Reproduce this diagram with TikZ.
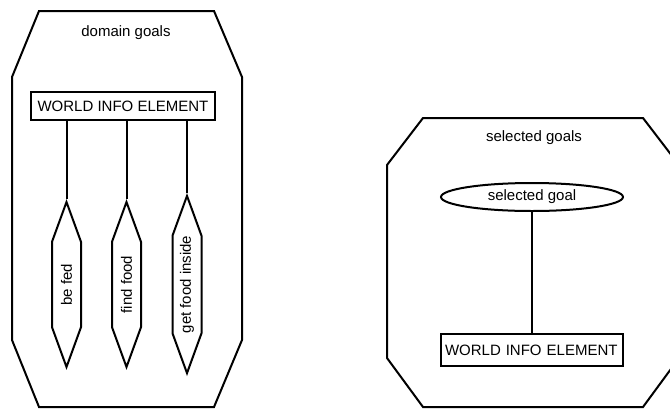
\documentclass[tikz,border=0pt]{standalone}
\usepackage{fontspec}
\setmainfont{Liberation Sans}
\usetikzlibrary{shapes.geometric,shapes.symbols}

\begin{document}
\begin{tikzpicture}[
            x = 1pt, y = -1pt, % work in pixel-like units, y down
            line width = 2pt, % line style
            font = \fontsize{15}{17}\selectfont,
            infobox/.style = {draw, rectangle, inner sep=0pt},
            goal/.style = {draw, signal, signal to=east and west,
                signal pointer angle=40, rotate=90,
                minimum width=165pt, minimum height=29pt, inner sep=0pt}
            ]
            \useasboundingbox (0,0) rectangle (670,408);
            \clip (0,0) rectangle (670,408);

            % outer frames
            \draw (39,11) -- (214,11) -- (242,77) -- (242,340)
                -- (214,407) -- (39,407) -- (12,340) -- (12,77) -- cycle;
            \draw (423,118) -- (643,118) -- (679,165) -- (679,358)
                -- (643,407) -- (423,407) -- (387,358) -- (387,165) -- cycle;

            \node (dg) at (126,33) {domain goals};
            \node (sg) at (534,138) {selected goals};

            % domain goals side
            \node[infobox, minimum width=184pt, minimum height=28pt]
                (wie1) at (123,106) {WORLD INFO ELEMENT};

            \node[goal] (g1) at (66.5,284.5) {be fed};
            \node[goal] (g2) at (126.5,284.5) {find food};
            \node[goal] (g3) at (187,284.5) {get food inside};

            \path[draw] (wie1.south -| g1.east) -- (g1.east);
            \path[draw] (wie1.south -| g2.east) -- (g2.east);
            \path[draw] (wie1.south -| g3.east) -- (g3.east);

            % selected goals side
            \node[draw, ellipse, inner sep=0pt, minimum width=182pt,
                minimum height=28pt] (sel) at (532,197) {selected goal};
            \node[infobox, minimum width=182pt, minimum height=32pt,
                inner xsep=4pt, text width=174pt, align=left] (wie2)
                at (532,350) {WORLD INFO ELEMENT};

            \path[draw] (sel.south) -- (wie2.north);
        \end{tikzpicture}
\end{document}
